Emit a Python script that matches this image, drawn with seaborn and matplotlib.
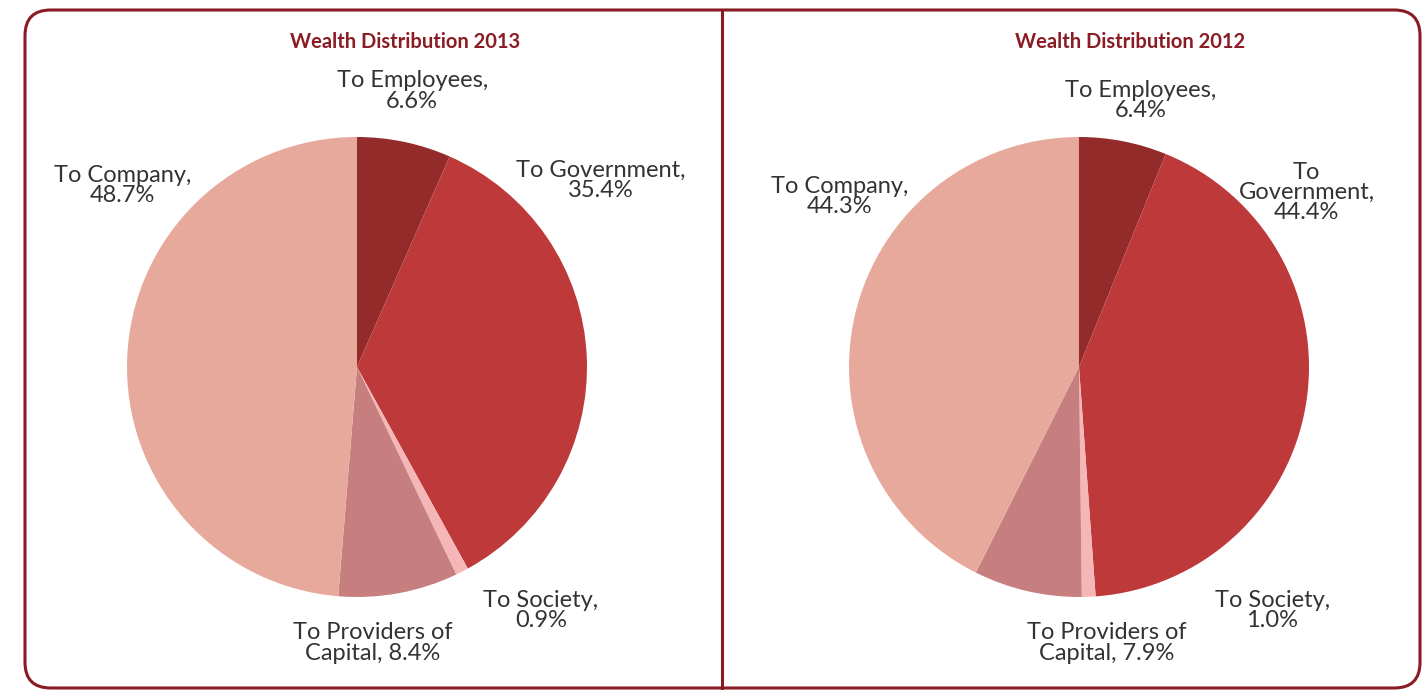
import matplotlib
matplotlib.use("Agg")
import matplotlib.pyplot as plt
from matplotlib.patches import FancyBboxPatch
from matplotlib.lines import Line2D
import seaborn as sns

# Wealth distribution shares (%)
categories = ["To Employees", "To Government", "To Society",
              "To Providers of Capital", "To Company"]
shares_2013 = [6.6, 35.4, 0.9, 8.4, 48.7]
shares_2012 = [6.4, 44.4, 1.0, 7.9, 44.3]
years = ["2013", "2012"]

# Label text templates (line breaks per panel)
label_fmt_2013 = ["To Employees,\n{:.1f}%", "To Government,\n{:.1f}%",
                  "To Society,\n{:.1f}%", "To Providers of\nCapital, {:.1f}%",
                  "To Company,\n{:.1f}%"]
label_fmt_2012 = ["To Employees,\n{:.1f}%", "To\nGovernment,\n{:.1f}%",
                  "To Society,\n{:.1f}%", "To Providers of\nCapital, {:.1f}%",
                  "To Company,\n{:.1f}%"]

# Label anchor positions in units of pie radius
label_pos_2013 = [(0.24, 1.20), (1.06, 0.81), (0.80, -1.06), (0.07, -1.20), (-1.02, 0.79)]
label_pos_2012 = [(0.27, 1.16), (0.99, 0.76), (0.84, -1.06), (0.12, -1.20), (-1.04, 0.74)]

sns.set_theme(style="white")
plt.rcParams["font.family"] = ["Lato", "DejaVu Sans"]

palette = sns.color_palette(["#932B2B", "#BE393A", "#F4B6B6", "#C67E7E", "#E7A99C"])
border_color = "#8A1B25"
title_color = "#8B1C24"
text_color = "#333333"

W, H = 1426, 690
fig = plt.figure(figsize=(W / 100, H / 100), dpi=100)
fig.patch.set_facecolor("white")

# Panel frame: rounded outer box split by a vertical divider
frame = FancyBboxPatch((25 / W, 1 - 688 / H), (1420 - 25) / W, (688 - 10) / H,
                       boxstyle="round,pad=0,rounding_size=0.018",
                       transform=fig.transFigure, fill=False,
                       edgecolor=border_color, linewidth=2.2,
                       mutation_aspect=W / H)
fig.patches.append(frame)
fig.add_artist(Line2D([722 / W, 722 / W], [1 - 10 / H, 0], transform=fig.transFigure,
                      color=border_color, linewidth=2.2))

R = 230
panels = [
    (357, 367, shares_2013, label_fmt_2013, label_pos_2013, 405),
    (1079, 367, shares_2012, label_fmt_2012, label_pos_2012, 1130),
]

for (cx, cy, shares, fmts, positions, title_x), year in zip(panels, years):
    ax = fig.add_axes([(cx - R) / W, (H - cy - R) / H, 2 * R / W, 2 * R / H])
    ax.pie(shares, colors=palette, startangle=90, counterclock=False,
           radius=1.0, wedgeprops=dict(linewidth=0))
    ax.set_xlim(-1, 1)
    ax.set_ylim(-1, 1)
    ax.set_aspect("equal")
    ax.axis("off")
    for fmt, val, (lx, ly) in zip(fmts, shares, positions):
        ax.text(lx, ly, fmt.format(val), ha="center", va="center",
                fontsize=17, color=text_color, linespacing=0.95, clip_on=False)
    fig.text(title_x / W, 1 - 42 / H, f"Wealth Distribution {year}",
             ha="center", va="center", fontsize=14.5, fontweight="bold",
             color=title_color)

fig.savefig("out.png", dpi=100, facecolor="white")
